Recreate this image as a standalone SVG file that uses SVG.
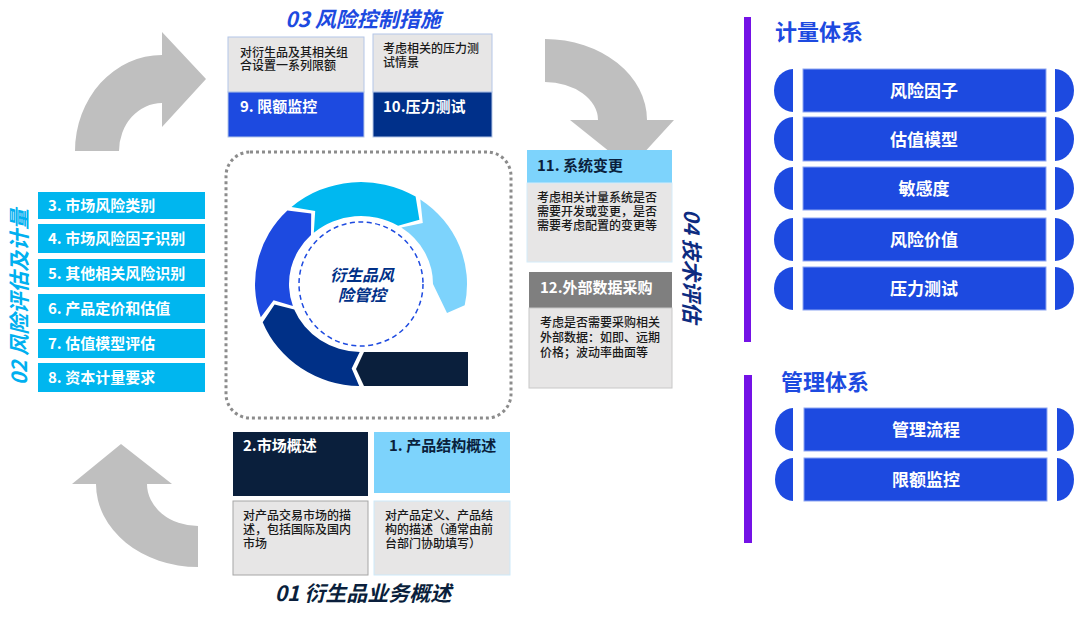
<svg xmlns="http://www.w3.org/2000/svg" width="1080" height="619" viewBox="0 0 1080 619">
<style>
text { font-family: "Noto Sans CJK SC", "Noto Sans", sans-serif; }
.t { font-size: 21px; font-weight: 700; font-style: italic; }
.h { font-size: 15px; font-weight: 700; }
.b { font-family: "Liberation Sans", "Noto Sans CJK SC", sans-serif; font-size: 12px; font-weight: 500; fill: #1a1a1a; }
.c { font-family: "Liberation Sans", "Noto Sans CJK SC", sans-serif; font-size: 16px; font-style: italic; font-weight: 700; fill: #003087; text-anchor: middle; }
.w { fill: #ffffff; }
.dk { fill: #0a1f3c; }
.lst { fill: #00b6ef; }
.row { fill: #1d4ae0; stroke: #8ea6f2; stroke-width: 1; }
.cap { fill: #1d4ae0; }
.rt { font-size: 17px; font-weight: 700; fill: #ffffff; text-anchor: middle; }
.gray { fill: #e7e6e6; }
.arrow { fill: #bfbfbf; }
.sec { font-size: 22px; font-weight: 700; fill: #1d4ae0; }
</style>
<rect width="1080" height="619" fill="#ffffff"/>

<g id="connectors">
<path class="arrow" d="M 75 151 A 87 96 0 0 1 162 55 L 162 32 L 206 79 L 162 127 L 162 103 A 43 48 0 0 0 119 151 Z"/>
<path class="arrow" d="M 545 39 A 102 81 0 0 1 647 120 L 674 120 L 630 168 L 570 120 L 598 120 A 53 38 0 0 0 545 82 Z"/>
<path class="arrow" d="M 72 484 L 121 444 L 172 484 L 147 484 A 51 42 0 0 0 198 526 L 198 567 A 102 83 0 0 1 96 484 Z"/>
</g>

<g id="title-03">
<text x="363" y="27" class="t" fill="#1d4ae0" text-anchor="middle">03 风险控制措施</text>
</g>

<g id="node-9">
<rect x="228" y="37" width="136" height="55" class="gray" stroke="#b4c6e7"/>
<rect x="228" y="92" width="136" height="45" fill="#1d4ae0" stroke="#b4c6e7"/>
<text class="b" x="240" y="56.5">对衍生品及其相关组<tspan x="240" dy="13.5">合设置一系列限额</tspan></text>
<text class="h w" x="240" y="112">9. 限额监控</text>
</g>

<g id="node-10">
<rect x="373" y="34" width="119" height="58" class="gray" stroke="#b4c6e7"/>
<rect x="373" y="92" width="119" height="45" fill="#00308a" stroke="#b4c6e7"/>
<text class="b" x="383" y="52.5">考虑相关的压力测<tspan x="383" dy="14">试情景</tspan></text>
<text class="h w" x="383" y="112">10.压力测试</text>
</g>

<g id="title-02">
<text class="t" fill="#00b0f0" text-anchor="middle" transform="translate(19,297) rotate(-90)" x="0" y="8">02 风险评估及计量</text>
</g>

<g id="node-3"><rect class="lst" x="38" y="192" width="167" height="27"/><text class="h w" x="48" y="211">3. 市场风险类别</text></g>
<g id="node-4"><rect class="lst" x="38" y="224" width="167" height="29"/><text class="h w" x="48" y="244">4. 市场风险因子识别</text></g>
<g id="node-5"><rect class="lst" x="38" y="259" width="167" height="28"/><text class="h w" x="48" y="278.5">5. 其他相关风险识别</text></g>
<g id="node-6"><rect class="lst" x="38" y="294" width="167" height="29"/><text class="h w" x="48" y="314">6. 产品定价和估值</text></g>
<g id="node-7"><rect class="lst" x="38" y="329" width="167" height="29"/><text class="h w" x="48" y="349">7. 估值模型评估</text></g>
<g id="node-8"><rect class="lst" x="38" y="363" width="167" height="29"/><text class="h w" x="48" y="383">8. 资本计量要求</text></g>

<g id="center">
<rect x="226" y="152" width="285" height="266" rx="24" fill="none" stroke="#8c8c8c" stroke-width="3" stroke-dasharray="3 3"/>
<path fill="#003087" d="M 359.2 386 A 106 102 0 0 1 262.7 322.2 L 274.6 304.6 L 294.2 309.5 A 72 68 0 0 0 359.7 352 L 351.7 368.5 Z"/>
<path fill="#1d4ae0" d="M 260.8 317.2 A 106 102 0 0 1 287.4 210.6 L 311.2 213.5 L 311 235.1 A 72 68 0 0 0 292.9 306.1 L 273.6 300.2 Z"/>
<path fill="#00b8f0" d="M 291.5 207 A 106 102 0 0 1 415.6 196.6 L 419.4 219.8 L 398.1 225.7 A 72 68 0 0 0 313.8 232.7 L 315.2 211.1 Z"/>
<path fill="#7dd3fc" d="M 420.3 199.4 A 106 102 0 0 1 464.7 305.2 L 447 313 L 433 284 A 72 68 0 0 0 401.3 227.6 L 422.8 222.9 Z"/>
<path fill="#0a1f3c" d="M 364 352 L 468 352 L 468 386 L 364 386 L 356 369 Z"/>
<circle cx="361" cy="284" r="62" fill="none" stroke="#1d4ae0" stroke-width="1.5" stroke-dasharray="5 3.5"/>
<text class="c" x="362" y="281">衍生品风<tspan x="362" dy="20">险管控</tspan></text>
</g>

<g id="node-11">
<rect x="527" y="150" width="145" height="33" fill="#7dd3fc"/>
<rect x="527" y="183" width="145" height="79" class="gray" stroke="#d4ecfa"/>
<text class="h dk" x="537" y="170.5">11. 系统变更</text>
<text class="b" x="537" y="201.5">考虑相关计量系统是否<tspan x="537" dy="14">需要开发或变更，是否</tspan><tspan x="537" dy="14">需要考虑配置的变更等</tspan></text>
</g>

<g id="node-12">
<rect x="529" y="272" width="143" height="36" fill="#7f7f7f"/>
<rect x="529" y="308" width="143" height="80" class="gray" stroke="#c8c8c8"/>
<text class="h w" x="540" y="292.5">12.外部数据采购</text>
<text class="b" x="540" y="326.5">考虑是否需要采购相关<tspan x="540" dy="15">外部数据：如即、远期</tspan><tspan x="540" dy="15">价格；波动率曲面等</tspan></text>
</g>

<g id="title-04">
<text class="t" fill="#0d2b80" text-anchor="middle" transform="translate(692,266) rotate(90)" x="0" y="8">04 技术评估</text>
</g>

<g id="node-2">
<rect x="233" y="432" width="135" height="64" fill="#0a1f3c"/>
<rect x="233" y="501" width="135" height="74" class="gray" stroke="#a6a6a6"/>
<text class="h w" x="243" y="450.5">2.市场概述</text>
<text class="b" x="243" y="519.5">对产品交易市场的描<tspan x="243" dy="14">述，包括国际及国内</tspan><tspan x="243" dy="14">市场</tspan></text>
</g>

<g id="node-1">
<rect x="374" y="432" width="136" height="61" fill="#7dd3fc"/>
<rect x="374" y="501" width="136" height="74" class="gray" stroke="#cde9f9"/>
<text class="h dk" x="389" y="450.5">1. 产品结构概述</text>
<text class="b" x="385" y="519.5">对产品定义、产品结<tspan x="385" dy="14">构的描述（通常由前</tspan><tspan x="385" dy="14">台部门协助填写）</tspan></text>
</g>

<g id="title-01">
<text x="363" y="601" class="t" fill="#0a1f3c" text-anchor="middle">01 衍生品业务概述</text>
</g>

<g id="measure-system">
<rect x="744" y="17" width="7" height="325" fill="#7412e6"/>
<text class="sec" x="775" y="40">计量体系</text>
</g>
<g id="m-row-1">
<path class="cap" d="M 793 69 L 793 112 A 19 21.5 0 0 1 793 69 Z"/>
<rect class="row" x="803" y="69" width="243" height="43"/>
<path class="cap" d="M 1055 69 A 19 21.5 0 0 1 1055 112 Z"/>
<text class="rt" x="924" y="97">风险因子</text>
</g>
<g id="m-row-2">
<path class="cap" d="M 793 117 L 793 161 A 19 22 0 0 1 793 117 Z"/>
<rect class="row" x="803" y="117" width="243" height="44"/>
<path class="cap" d="M 1055 117 A 19 22 0 0 1 1055 161 Z"/>
<text class="rt" x="924" y="145.5">估值模型</text>
</g>
<g id="m-row-3">
<path class="cap" d="M 793 167 L 793 210 A 19 21.5 0 0 1 793 167 Z"/>
<rect class="row" x="803" y="167" width="243" height="43"/>
<path class="cap" d="M 1055 167 A 19 21.5 0 0 1 1055 210 Z"/>
<text class="rt" x="924" y="195">敏感度</text>
</g>
<g id="m-row-4">
<path class="cap" d="M 793 218 L 793 261 A 19 21.5 0 0 1 793 218 Z"/>
<rect class="row" x="803" y="218" width="243" height="43"/>
<path class="cap" d="M 1055 218 A 19 21.5 0 0 1 1055 261 Z"/>
<text class="rt" x="924" y="246">风险价值</text>
</g>
<g id="m-row-5">
<path class="cap" d="M 793 267 L 793 310 A 19 21.5 0 0 1 793 267 Z"/>
<rect class="row" x="803" y="267" width="243" height="43"/>
<path class="cap" d="M 1055 267 A 19 21.5 0 0 1 1055 310 Z"/>
<text class="rt" x="924" y="295">压力测试</text>
</g>

<g id="management-system">
<rect x="744" y="375" width="8" height="168" fill="#7412e6"/>
<text class="sec" x="781" y="390">管理体系</text>
</g>
<g id="g-row-1">
<path class="cap" d="M 793 408 L 793 451 A 18 21.5 0 0 1 793 408 Z"/>
<rect class="row" x="804" y="408" width="243" height="43"/>
<path class="cap" d="M 1057 408 A 17 21.5 0 0 1 1057 451 Z"/>
<text class="rt" x="926" y="436">管理流程</text>
</g>
<g id="g-row-2">
<path class="cap" d="M 793 458 L 793 501 A 18 21.5 0 0 1 793 458 Z"/>
<rect class="row" x="804" y="458" width="243" height="43"/>
<path class="cap" d="M 1057 458 A 17 21.5 0 0 1 1057 501 Z"/>
<text class="rt" x="926" y="486">限额监控</text>
</g>
</svg>
